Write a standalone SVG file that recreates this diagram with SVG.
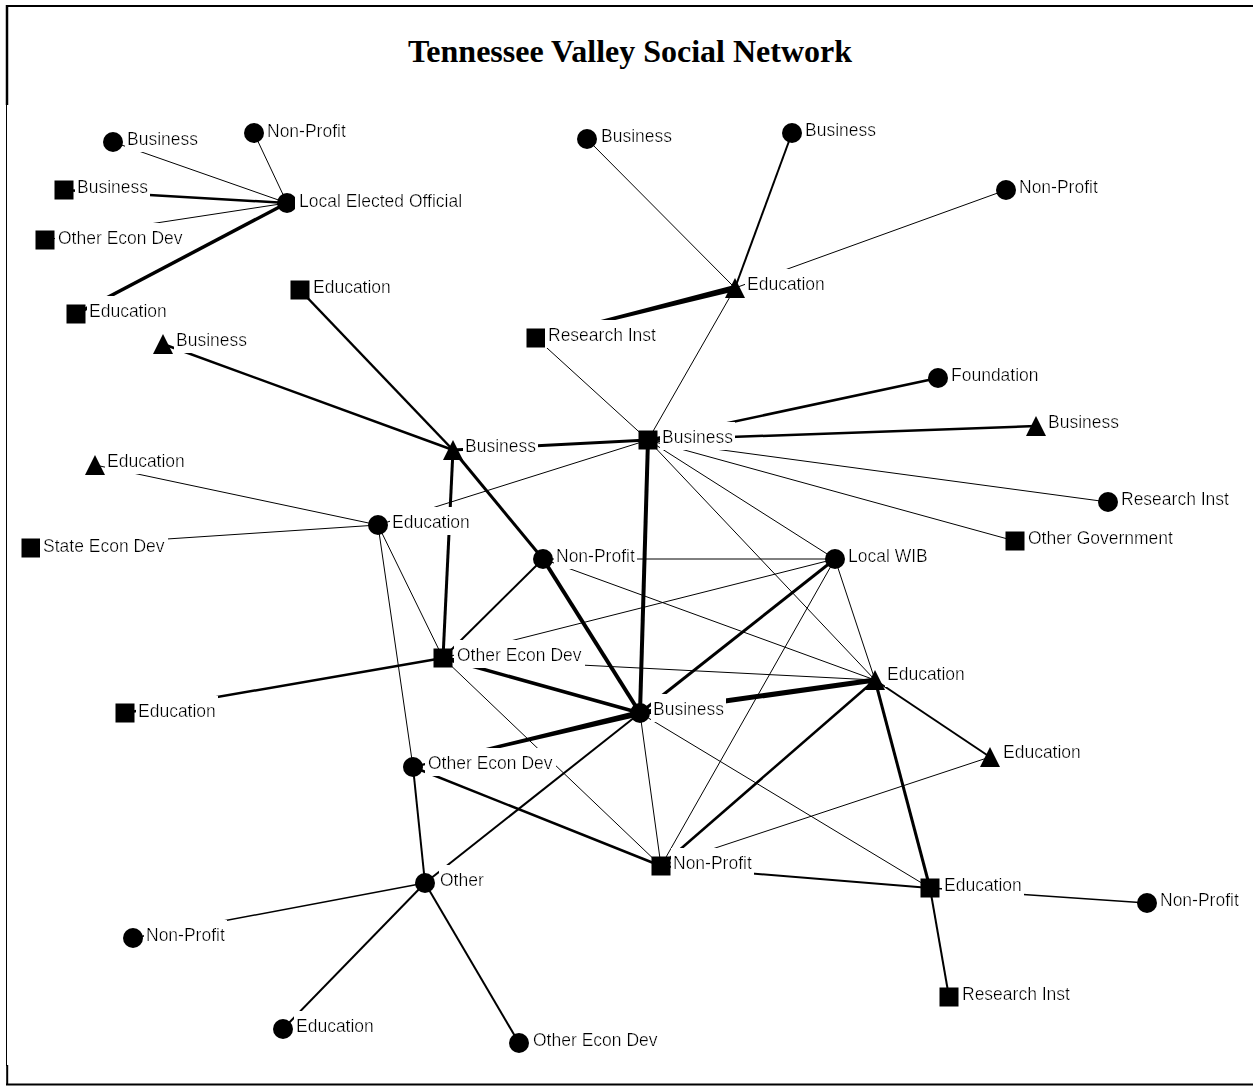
<svg xmlns="http://www.w3.org/2000/svg" width="1253" height="1086" viewBox="0 0 1253 1086">
  <defs>
    <!-- opaque white box behind each label so it hides the ties running under it -->
    <filter id="lbg" x="-0.02" y="-0.22" width="1.04" height="1.34">
      <feFlood flood-color="#fff" result="bg"/>
      <feMerge>
        <feMergeNode in="bg"/>
        <feMergeNode in="SourceGraphic"/>
      </feMerge>
    </filter>
  </defs>
  <style>
    .frame{stroke:#000;fill:none}
    .title{font-family:"Liberation Serif","Times New Roman",serif;font-weight:bold;font-size:32px;fill:#000}
    .ties line{stroke:#000;stroke-linecap:butt}
    .ties polygon{fill:#000;stroke:none}
    .w1{stroke-width:1}
    .w15{stroke-width:1.5}
    .w2{stroke-width:2}
    .w25{stroke-width:2.5}
    .w3{stroke-width:3}
    .w35{stroke-width:3.5}
    .w4{stroke-width:4}
    .w5{stroke-width:5}
    .sym{fill:#000}
    .lb{font-family:"Liberation Sans",Arial,sans-serif;font-size:17.5px;fill:#000}
  </style>

  <rect width="1253" height="1086" fill="#fff"/>

  <!-- page frame -->
  <g id="frame" class="frame">
    <line x1="6" y1="6" x2="1253" y2="6" stroke-width="2"/>
    <line x1="7" y1="5" x2="7" y2="105" stroke-width="2.5"/>
    <line x1="6.5" y1="105" x2="6.5" y2="1066" stroke-width="1"/>
    <line x1="7.2" y1="1065" x2="7.2" y2="1085" stroke-width="2"/>
    <line x1="6" y1="1084.5" x2="1253" y2="1084.5" stroke-width="2"/>
  </g>

  <text class="title" x="630" y="62" text-anchor="middle">Tennessee Valley Social Network</text>

  <!-- ties -->
  <g id="ties" class="ties">
    <!-- Local Elected Official -->
    <line class="w1" x1="113" y1="142" x2="287" y2="203"/>
    <line class="w1" x1="254" y1="133" x2="287" y2="203"/>
    <line class="w25" x1="64" y1="190" x2="287" y2="203"/>
    <line class="w1" x1="45" y1="240" x2="287" y2="203"/>
    <line class="w35" x1="76" y1="314" x2="287" y2="203"/>
    <!-- Business (triangle, centre-left) -->
    <line class="w25" x1="300" y1="290" x2="453" y2="450"/>
    <line class="w25" x1="163" y1="344" x2="453" y2="450"/>
    <line class="w3" x1="453" y1="450" x2="648" y2="440"/>
    <line class="w3" x1="453" y1="450" x2="443" y2="658"/>
    <line class="w3" x1="453" y1="450" x2="543" y2="559"/>
    <!-- Education (triangle, top) -->
    <line class="w1" x1="587" y1="139" x2="735" y2="288"/>
    <line class="w2" x1="792" y1="133" x2="735" y2="288"/>
    <line class="w1" x1="1006" y1="190" x2="735" y2="288"/>
    <!-- tapered tie: Research Inst to Education -->
    <polygon points="535.8,337 734.3,285.1 735.7,290.9 536.2,339"/>
    <line class="w1" x1="735" y1="288" x2="648" y2="440"/>
    <!-- Business (square, centre) -->
    <line class="w1" x1="536" y1="338" x2="648" y2="440"/>
    <line class="w25" x1="938" y1="378" x2="648" y2="440"/>
    <line class="w25" x1="1036" y1="426" x2="648" y2="440"/>
    <line class="w1" x1="1108" y1="502" x2="648" y2="440"/>
    <line class="w1" x1="1015" y1="541" x2="648" y2="440"/>
    <line class="w1" x1="648" y1="440" x2="835" y2="559"/>
    <line class="w1" x1="648" y1="440" x2="875" y2="680"/>
    <line class="w1" x1="648" y1="440" x2="378" y2="525"/>
    <line class="w4" x1="648" y1="440" x2="640" y2="713"/>
    <!-- Education (circle, left) -->
    <line class="w1" x1="95" y1="465" x2="378" y2="525"/>
    <line class="w1" x1="31" y1="548" x2="378" y2="525"/>
    <line class="w1" x1="378" y1="525" x2="443" y2="658"/>
    <line class="w1" x1="378" y1="525" x2="413" y2="767"/>
    <!-- Non-Profit (circle, centre) -->
    <line class="w1" x1="543" y1="559" x2="835" y2="559"/>
    <line class="w2" x1="543" y1="559" x2="443" y2="658"/>
    <line class="w1" x1="543" y1="559" x2="875" y2="680"/>
    <line class="w4" x1="543" y1="559" x2="640" y2="713"/>
    <!-- Local WIB -->
    <line class="w1" x1="835" y1="559" x2="443" y2="658"/>
    <line class="w3" x1="835" y1="559" x2="640" y2="713"/>
    <line class="w1" x1="835" y1="559" x2="875" y2="680"/>
    <line class="w1" x1="835" y1="559" x2="661" y2="866"/>
    <!-- Other Econ Dev (square) -->
    <line class="w1" x1="443" y1="658" x2="875" y2="680"/>
    <line class="w35" x1="443" y1="658" x2="640" y2="713"/>
    <line class="w25" x1="443" y1="658" x2="125" y2="713"/>
    <line class="w1" x1="443" y1="658" x2="661" y2="866"/>
    <!-- Business (circle, centre) -->
    <line class="w5" x1="640" y1="713" x2="875" y2="680"/>
    <!-- tapered tie: Business to Other Econ Dev -->
    <polygon points="640.7,715.9 639.3,710.1 412.8,766 413.2,768"/>
    <line class="w2" x1="640" y1="713" x2="425" y2="883"/>
    <line class="w1" x1="640" y1="713" x2="661" y2="866"/>
    <line class="w1" x1="640" y1="713" x2="930" y2="888"/>
    <!-- Education (triangle, right) -->
    <line class="w2" x1="875" y1="680" x2="990" y2="757"/>
    <line class="w3" x1="875" y1="680" x2="930" y2="888"/>
    <line class="w25" x1="875" y1="680" x2="661" y2="866"/>
    <line class="w1" x1="990" y1="757" x2="661" y2="866"/>
    <!-- lower cluster -->
    <line class="w25" x1="413" y1="767" x2="661" y2="866"/>
    <line class="w2" x1="413" y1="767" x2="425" y2="883"/>
    <line class="w2" x1="661" y1="866" x2="930" y2="888"/>
    <line class="w15" x1="930" y1="888" x2="1147" y2="903"/>
    <line class="w2" x1="930" y1="888" x2="949" y2="997"/>
    <line class="w15" x1="425" y1="883" x2="133" y2="938"/>
    <line class="w2" x1="425" y1="883" x2="283" y2="1029"/>
    <line class="w2" x1="425" y1="883" x2="519" y2="1043"/>
  </g>

  <!-- actors: circle, square or triangle symbol with a label -->
  <g id="n1"><circle class="sym" cx="113" cy="142" r="10"/><text class="lb" filter="url(#lbg)" x="127" y="145">Business</text></g>
  <g id="n2"><circle class="sym" cx="254" cy="133" r="10"/><text class="lb" filter="url(#lbg)" x="267" y="137">Non-Profit</text></g>
  <g id="n3"><rect class="sym" x="54.5" y="180.5" width="19" height="19"/><text class="lb" filter="url(#lbg)" x="77" y="193">Business</text></g>
  <g id="n4"><circle class="sym" cx="287" cy="203" r="10"/><text class="lb" filter="url(#lbg)" x="299" y="207">Local Elected Official</text></g>
  <g id="n5"><rect class="sym" x="35.5" y="230.5" width="19" height="19"/><text class="lb" filter="url(#lbg)" x="58" y="244">Other Econ Dev</text></g>
  <g id="n6"><rect class="sym" x="66.5" y="304.5" width="19" height="19"/><text class="lb" filter="url(#lbg)" x="89" y="317">Education</text></g>
  <g id="n7"><rect class="sym" x="290.5" y="280.5" width="19" height="19"/><text class="lb" filter="url(#lbg)" x="313" y="293">Education</text></g>
  <g id="n8"><polygon class="sym" points="163,334 153,354 173,354"/><text class="lb" filter="url(#lbg)" x="176" y="346">Business</text></g>
  <g id="n9"><circle class="sym" cx="587" cy="139" r="10"/><text class="lb" filter="url(#lbg)" x="601" y="142">Business</text></g>
  <g id="n10"><circle class="sym" cx="792" cy="133" r="10"/><text class="lb" filter="url(#lbg)" x="805" y="136">Business</text></g>
  <g id="n11"><circle class="sym" cx="1006" cy="190" r="10"/><text class="lb" filter="url(#lbg)" x="1019" y="193">Non-Profit</text></g>
  <g id="n12"><polygon class="sym" points="735,278 725,298 745,298"/><text class="lb" filter="url(#lbg)" x="747" y="290">Education</text></g>
  <g id="n13"><rect class="sym" x="526.5" y="328.5" width="19" height="19"/><text class="lb" filter="url(#lbg)" x="548" y="341">Research Inst</text></g>
  <g id="n14"><circle class="sym" cx="938" cy="378" r="10"/><text class="lb" filter="url(#lbg)" x="951" y="381">Foundation</text></g>
  <g id="n15"><polygon class="sym" points="1036,416 1026,436 1046,436"/><text class="lb" filter="url(#lbg)" x="1048" y="428">Business</text></g>
  <g id="n16"><rect class="sym" x="638.5" y="430.5" width="19" height="19"/><text class="lb" filter="url(#lbg)" x="662" y="443">Business</text></g>
  <g id="n17"><polygon class="sym" points="453,440 443,460 463,460"/><text class="lb" filter="url(#lbg)" x="465" y="452">Business</text></g>
  <g id="n18"><polygon class="sym" points="95,455 85,475 105,475"/><text class="lb" filter="url(#lbg)" x="107" y="467">Education</text></g>
  <g id="n19"><circle class="sym" cx="378" cy="525" r="10"/><text class="lb" filter="url(#lbg)" x="392" y="528">Education</text></g>
  <g id="n20"><rect class="sym" x="21.5" y="538.5" width="19" height="19"/><text class="lb" filter="url(#lbg)" x="43" y="552">State Econ Dev</text></g>
  <g id="n21"><circle class="sym" cx="1108" cy="502" r="10"/><text class="lb" filter="url(#lbg)" x="1121" y="505">Research Inst</text></g>
  <g id="n22"><rect class="sym" x="1005.5" y="531.5" width="19" height="19"/><text class="lb" filter="url(#lbg)" x="1028" y="544">Other Government</text></g>
  <g id="n23"><circle class="sym" cx="543" cy="559" r="10"/><text class="lb" filter="url(#lbg)" x="556" y="562">Non-Profit</text></g>
  <g id="n24"><circle class="sym" cx="835" cy="559" r="10"/><text class="lb" filter="url(#lbg)" x="848" y="562">Local WIB</text></g>
  <g id="n25"><rect class="sym" x="433.5" y="648.5" width="19" height="19"/><text class="lb" filter="url(#lbg)" x="457" y="661">Other Econ Dev</text></g>
  <g id="n26"><polygon class="sym" points="875,670 865,690 885,690"/><text class="lb" filter="url(#lbg)" x="887" y="680">Education</text></g>
  <g id="n27"><circle class="sym" cx="640" cy="713" r="10"/><text class="lb" filter="url(#lbg)" x="653" y="715">Business</text></g>
  <g id="n28"><rect class="sym" x="115.5" y="703.5" width="19" height="19"/><text class="lb" filter="url(#lbg)" x="138" y="717">Education</text></g>
  <g id="n29"><polygon class="sym" points="990,747 980,767 1000,767"/><text class="lb" filter="url(#lbg)" x="1003" y="758">Education</text></g>
  <g id="n30"><circle class="sym" cx="413" cy="767" r="10"/><text class="lb" filter="url(#lbg)" x="428" y="769">Other Econ Dev</text></g>
  <g id="n31"><rect class="sym" x="651.5" y="856.5" width="19" height="19"/><text class="lb" filter="url(#lbg)" x="673" y="869">Non-Profit</text></g>
  <g id="n32"><rect class="sym" x="920.5" y="878.5" width="19" height="19"/><text class="lb" filter="url(#lbg)" x="944" y="891">Education</text></g>
  <g id="n33"><circle class="sym" cx="1147" cy="903" r="10"/><text class="lb" filter="url(#lbg)" x="1160" y="906">Non-Profit</text></g>
  <g id="n34"><circle class="sym" cx="425" cy="883" r="10"/><text class="lb" filter="url(#lbg)" x="440" y="886">Other</text></g>
  <g id="n35"><circle class="sym" cx="133" cy="938" r="10"/><text class="lb" filter="url(#lbg)" x="146" y="941">Non-Profit</text></g>
  <g id="n36"><rect class="sym" x="939.5" y="987.5" width="19" height="19"/><text class="lb" filter="url(#lbg)" x="962" y="1000">Research Inst</text></g>
  <g id="n37"><circle class="sym" cx="283" cy="1029" r="10"/><text class="lb" filter="url(#lbg)" x="296" y="1032">Education</text></g>
  <g id="n38"><circle class="sym" cx="519" cy="1043" r="10"/><text class="lb" filter="url(#lbg)" x="533" y="1046">Other Econ Dev</text></g>
</svg>
